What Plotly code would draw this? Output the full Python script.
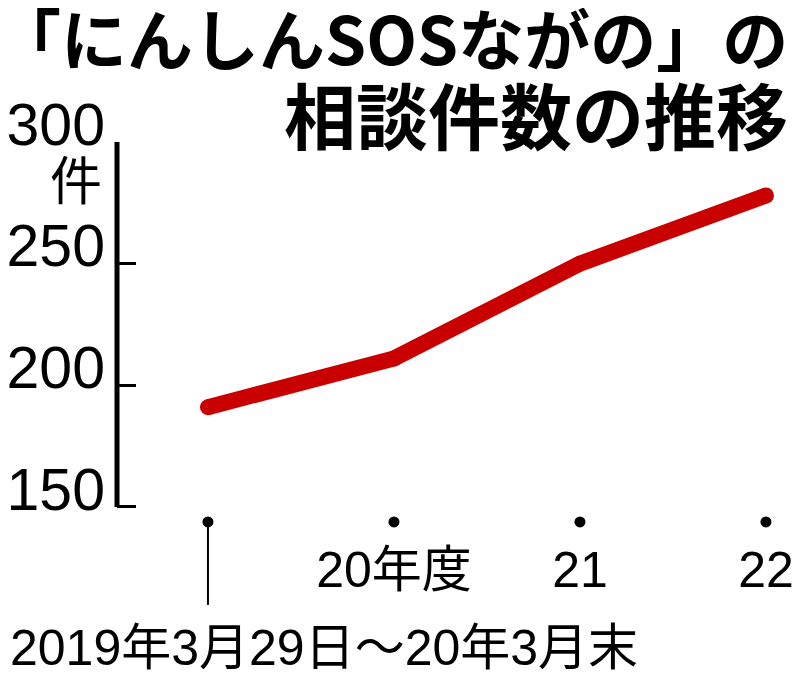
import plotly.graph_objects as go

# 相談件数（年度ごと）
periods = [0, 1, 2, 3]
period_labels = ["", "20年度", "21", "22"]
counts = [191, 211, 250, 278]

y_ticks = [150, 200, 250, 300]
first_period_label = "2019年3月29日～20年3月末"

RED = "#c80000"
NUM_FONT = "Liberation Sans, Arial, Noto Sans CJK JP, sans-serif"
JP_FONT = "Noto Sans CJK JP, sans-serif"

# 横軸の目印（点）と説明線の高さ
DOT_LEVEL = 143.8
LEADER_END = 109.7

fig = go.Figure()

# 推移の線（端を丸く見せるためにマーカーも重ねる）
fig.add_trace(go.Scatter(
    x=periods, y=counts,
    mode="lines+markers",
    line=dict(color=RED, width=16),
    marker=dict(color=RED, size=16),
    hoverinfo="skip",
))

# 横軸の黒い点
fig.add_trace(go.Scatter(
    x=periods, y=[DOT_LEVEL] * len(periods),
    mode="markers",
    marker=dict(color="black", size=11),
    hoverinfo="skip",
))

# ページ本体の余白（8px）を差し引いたサイズ
fig.update_layout(
    width=792, height=682,
    margin=dict(l=109, r=0, t=134, b=70),
    plot_bgcolor="white",
    paper_bgcolor="white",
    showlegend=False,
    font=dict(family=NUM_FONT, color="black"),
)

fig.update_xaxes(
    range=[-0.489, 3.183],
    tickvals=periods,
    ticktext=period_labels,
    showgrid=False, zeroline=False, showline=False,
    ticks="",
    ticklabelposition="inside",
    tickfont=dict(size=50, family=NUM_FONT, color="black"),
    ticklabelstandoff=20,
    automargin=False,
)

fig.update_yaxes(
    range=[103.5, 300],
    tickvals=y_ticks,
    showgrid=False, zeroline=False, showline=False,
    ticks="inside", ticklen=19, tickwidth=3, tickcolor="black",
    tickfont=dict(size=59, family=NUM_FONT, color="black"),
    ticklabelshift=-18,
    ticklabelstandoff=11,
    automargin=False,
)

# 縦軸の線（150〜300の範囲だけ）
fig.add_shape(
    type="line", xref="paper", yref="y",
    x0=0, x1=0, y0=y_ticks[0], y1=y_ticks[-1],
    line=dict(color="black", width=5),
)

# 最初の期間の説明線
fig.add_shape(
    type="line", xref="x", yref="y",
    x0=periods[0], x1=periods[0], y0=DOT_LEVEL, y1=LEADER_END,
    line=dict(color="black", width=2),
)

annotations = [
    dict(text="「にんしんSOSながの」の", x=0.9854, y=1.222,
         font=dict(size=66, family=JP_FONT, weight="bold")),
    dict(text="相談件数の推移", x=0.9854, y=1.061,
         font=dict(size=72, family=JP_FONT, weight="bold")),
    dict(text="件", x=-0.019, y=0.925,
         font=dict(size=52, family=JP_FONT)),
    dict(text=first_period_label, x=-0.1596, y=-0.0586, xanchor="left",
         font=dict(size=50, family=NUM_FONT)),
]
for a in annotations:
    a.setdefault("xanchor", "right")
    fig.add_annotation(xref="paper", yref="paper", yanchor="middle",
                       showarrow=False, **a)

fig.write_html("out.html")
